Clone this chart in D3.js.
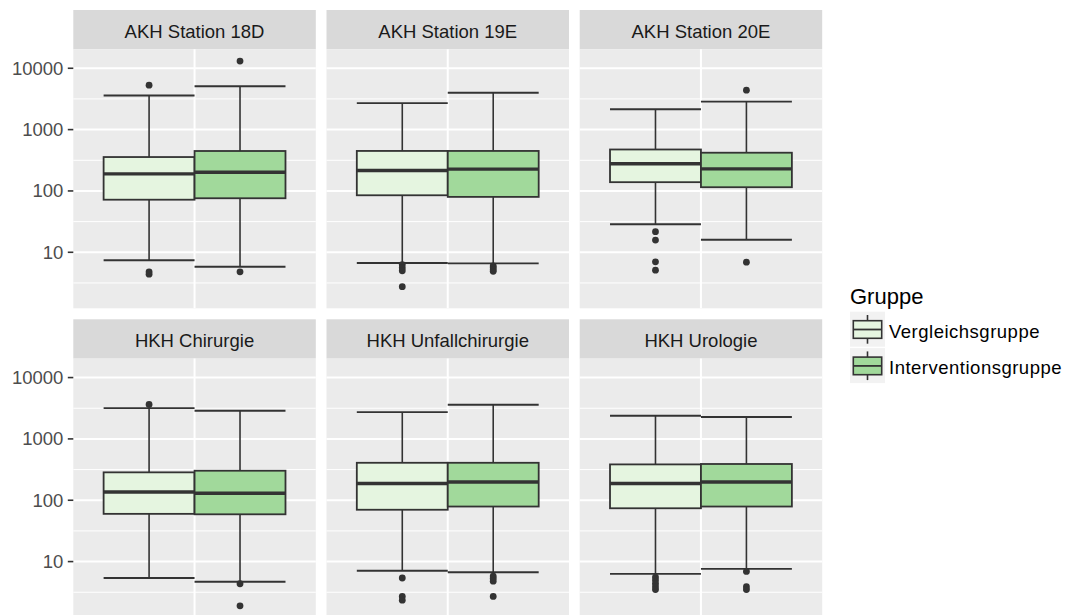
<!DOCTYPE html>
<html>
<head>
<meta charset="utf-8">
<script src="https://cdn.jsdelivr.net/npm/d3@7"></script>
<style>
  body { margin: 0; background: #fff; }
  svg { display: block; font-family: "Liberation Sans", Arial, sans-serif; }
</style>
</head>
<body>
<div id="container"></div>
<script>
// facet names, groups and the box statistics
let stations = ["AKH Station 18D", "AKH Station 19E", "AKH Station 20E",
                "HKH Chirurgie", "HKH Unfallchirurgie", "HKH Urologie"];
let groups = ["Vergleichsgruppe", "Interventionsgruppe"];
let groupColors = ["#E5F5E0", "#A1D99B"];

// one pair [Vergleich, Intervention] per station
let lowerWhisker = [[7.4, 5.8], [6.7, 6.6], [28.6, 16], [5.4, 4.7], [7.1, 6.7], [6.3, 7.6]];
let q1 = [[72, 76], [85, 80], [139, 115], [60, 59], [70, 79], [74, 79]];
let median = [[190, 202], [216, 227], [277, 229], [136, 130], [187, 198], [187, 198]];
let q3 = [[357, 448], [449, 449], [474, 420], [285, 303], [408, 408], [384, 390]];
let upperWhisker = [[3590, 5100], [2700, 4000], [2150, 2860], [3180, 2880], [2730, 3600], [2390, 2280]];
let outliers = [
  [[5300, 4.8, 4.4], [13100, 4.8]],
  [[6.3, 5.6, 5.0, 2.75], [6.0, 5.6, 5.2, 4.9]],
  [[21.7, 15.8, 7.0, 5.1], [4400, 6.9]],
  [[3640], [4.35, 1.9]],
  [[5.4, 2.7, 2.35], [5.8, 5.3, 4.8, 2.7]],
  [[5.6, 5.0, 4.4, 3.9, 3.5], [6.9, 3.9, 3.5]]
];
let yTicks = [10, 100, 1000, 10000];

// layout
let w = 1067;
let h = 615;
let panelLeft = 73.3;
let panelW = 242.5;
let gapX = 10.7;
let rowTop = 10;
let stripH = 39.3;
let panelH = 259;
let gapY = 11;

let viz = d3.select("#container")
  .append("svg")
    .attr("width", w)
    .attr("height", h)
;

// build one flat table of boxes from the arrays
let boxes = [];
stations.forEach(function(s, i){
  groups.forEach(function(g, j){
    boxes.push({
      station: s, group: g, gi: j, si: i,
      lw: lowerWhisker[i][j], q1: q1[i][j], med: median[i][j],
      q3: q3[i][j], uw: upperWhisker[i][j], out: outliers[i][j]
    });
  });
});

// y range like ggplot: data range plus 5% each side, on log scale
let allValues = [];
boxes.forEach(function(b){
  allValues.push(b.lw, b.uw);
  b.out.forEach(v => allValues.push(v));
});
let lo = Math.log10(d3.min(allValues));
let hi = Math.log10(d3.max(allValues));
let ext = (hi - lo) * 0.05;
let yScale = d3.scaleLog()
  .domain([Math.pow(10, lo - ext), Math.pow(10, hi + ext)])
  .range([panelH, 0]);

// minor breaks halfway between majors (in log space)
let minorTicks = [0.5, 1.5, 2.5, 3.5].map(v => Math.pow(10, v));

// one discrete x position per panel, dodged by group
let xScale = d3.scaleLinear().domain([0.4, 1.6]).range([0, panelW]);
let dodge = d3.scaleBand().domain(groups).range([xScale(0.55), xScale(1.45)]);

stations.forEach(function(s, i){
  let col = i % 3;
  let row = Math.floor(i / 3);
  let px = panelLeft + col * (panelW + gapX);
  let py = rowTop + row * (stripH + panelH + gapY);

  let strip = viz.append("g").attr("transform", "translate(" + px + "," + py + ")");
  strip.append("rect")
    .attr("width", panelW)
    .attr("height", stripH)
    .attr("fill", "#D9D9D9");
  strip.append("text")
    .attr("x", panelW / 2)
    .attr("y", 28)
    .attr("text-anchor", "middle")
    .attr("font-size", 18.5)
    .attr("fill", "#1A1A1A")
    .text(s);

  let panel = viz.append("g")
    .attr("transform", "translate(" + px + "," + (py + stripH) + ")");

  panel.append("rect")
    .attr("width", panelW)
    .attr("height", panelH)
    .attr("fill", "#EBEBEB");

  panel.selectAll(".minor").data(minorTicks).enter()
    .append("line")
      .attr("x1", 0).attr("x2", panelW)
      .attr("y1", d => yScale(d)).attr("y2", d => yScale(d))
      .attr("stroke", "#fff").attr("stroke-width", 1);

  panel.selectAll(".major").data(yTicks).enter()
    .append("line")
      .attr("x1", 0).attr("x2", panelW)
      .attr("y1", d => yScale(d)).attr("y2", d => yScale(d))
      .attr("stroke", "#fff").attr("stroke-width", 2);

  panel.append("line")
    .attr("x1", xScale(1)).attr("x2", xScale(1))
    .attr("y1", 0).attr("y2", panelH)
    .attr("stroke", "#fff").attr("stroke-width", 2);

  let data = boxes.filter(b => b.si == i);
  let bw = dodge.bandwidth();

  let g = panel.selectAll(".datapoint").data(data).enter()
    .append("g")
      .classed("datapoint", true)
      .attr("transform", d => "translate(" + dodge(d.group) + ",0)");

  // whisker caps (errorbar)
  g.append("line")
    .attr("x1", 0).attr("x2", bw)
    .attr("y1", d => yScale(d.uw)).attr("y2", d => yScale(d.uw))
    .attr("stroke", "#333").attr("stroke-width", 1.9);
  g.append("line")
    .attr("x1", 0).attr("x2", bw)
    .attr("y1", d => yScale(d.lw)).attr("y2", d => yScale(d.lw))
    .attr("stroke", "#333").attr("stroke-width", 1.9);

  // whiskers
  g.append("line")
    .attr("x1", bw / 2).attr("x2", bw / 2)
    .attr("y1", d => yScale(d.uw)).attr("y2", d => yScale(d.q3))
    .attr("stroke", "#333").attr("stroke-width", 1.6);
  g.append("line")
    .attr("x1", bw / 2).attr("x2", bw / 2)
    .attr("y1", d => yScale(d.q1)).attr("y2", d => yScale(d.lw))
    .attr("stroke", "#333").attr("stroke-width", 1.6);

  g.append("rect")
    .attr("x", 0)
    .attr("width", bw)
    .attr("y", d => yScale(d.q3))
    .attr("height", d => yScale(d.q1) - yScale(d.q3))
    .attr("fill", d => groupColors[d.gi])
    .attr("stroke", "#333")
    .attr("stroke-width", 1.8);

  g.append("line")
    .attr("x1", 0).attr("x2", bw)
    .attr("y1", d => yScale(d.med)).attr("y2", d => yScale(d.med))
    .attr("stroke", "#333").attr("stroke-width", 3.4);

  g.selectAll("circle").data(d => d.out).enter()
    .append("circle")
      .attr("cx", bw / 2)
      .attr("cy", d => yScale(d))
      .attr("r", 3.4)
      .attr("fill", "#333");

  // y axis only on the left column
  if (col == 0) {
    let ax = viz.append("g")
      .attr("transform", "translate(" + px + "," + (py + stripH) + ")");
    ax.selectAll("line").data(yTicks).enter()
      .append("line")
        .attr("x1", -5.5).attr("x2", 0)
        .attr("y1", d => yScale(d)).attr("y2", d => yScale(d))
        .attr("stroke", "#333").attr("stroke-width", 1.6);
    ax.selectAll("text").data(yTicks).enter()
      .append("text")
        .attr("x", -9.9)
        .attr("y", d => yScale(d) + 6.3)
        .attr("text-anchor", "end")
        .attr("font-size", 18.5)
        .attr("fill", "#4D4D4D")
        .text(d => d);
  }
});

// legend
let legend = viz.append("g").attr("transform", "translate(850,0)");
legend.append("text")
  .attr("x", 0)
  .attr("y", 303.5)
  .attr("font-size", 22)
  .attr("fill", "#000")
  .text("Gruppe");

let keys = legend.selectAll(".key").data(groups).enter()
  .append("g")
    .classed("key", true)
    .attr("transform", (d, i) => "translate(0," + (311.7 + i * 36.4) + ")");

keys.append("rect")
  .attr("width", 35).attr("height", 35)
  .attr("fill", "#F2F2F2");
keys.append("line")
  .attr("x1", 17.5).attr("x2", 17.5)
  .attr("y1", 3.3).attr("y2", 32)
  .attr("stroke", "#333").attr("stroke-width", 1.6);
keys.append("rect")
  .attr("x", 3.3).attr("y", 9)
  .attr("width", 28.4).attr("height", 17.6)
  .attr("fill", (d, i) => groupColors[i])
  .attr("stroke", "#333").attr("stroke-width", 1.6);
keys.append("line")
  .attr("x1", 3.3).attr("x2", 31.7)
  .attr("y1", 17.8).attr("y2", 17.8)
  .attr("stroke", "#333").attr("stroke-width", 1.8);
keys.append("text")
  .attr("x", 39)
  .attr("y", 26)
  .attr("font-size", 18.5)
  .attr("letter-spacing", 0.5)
  .attr("fill", "#000")
  .text(d => d);
</script>
</body>
</html>
